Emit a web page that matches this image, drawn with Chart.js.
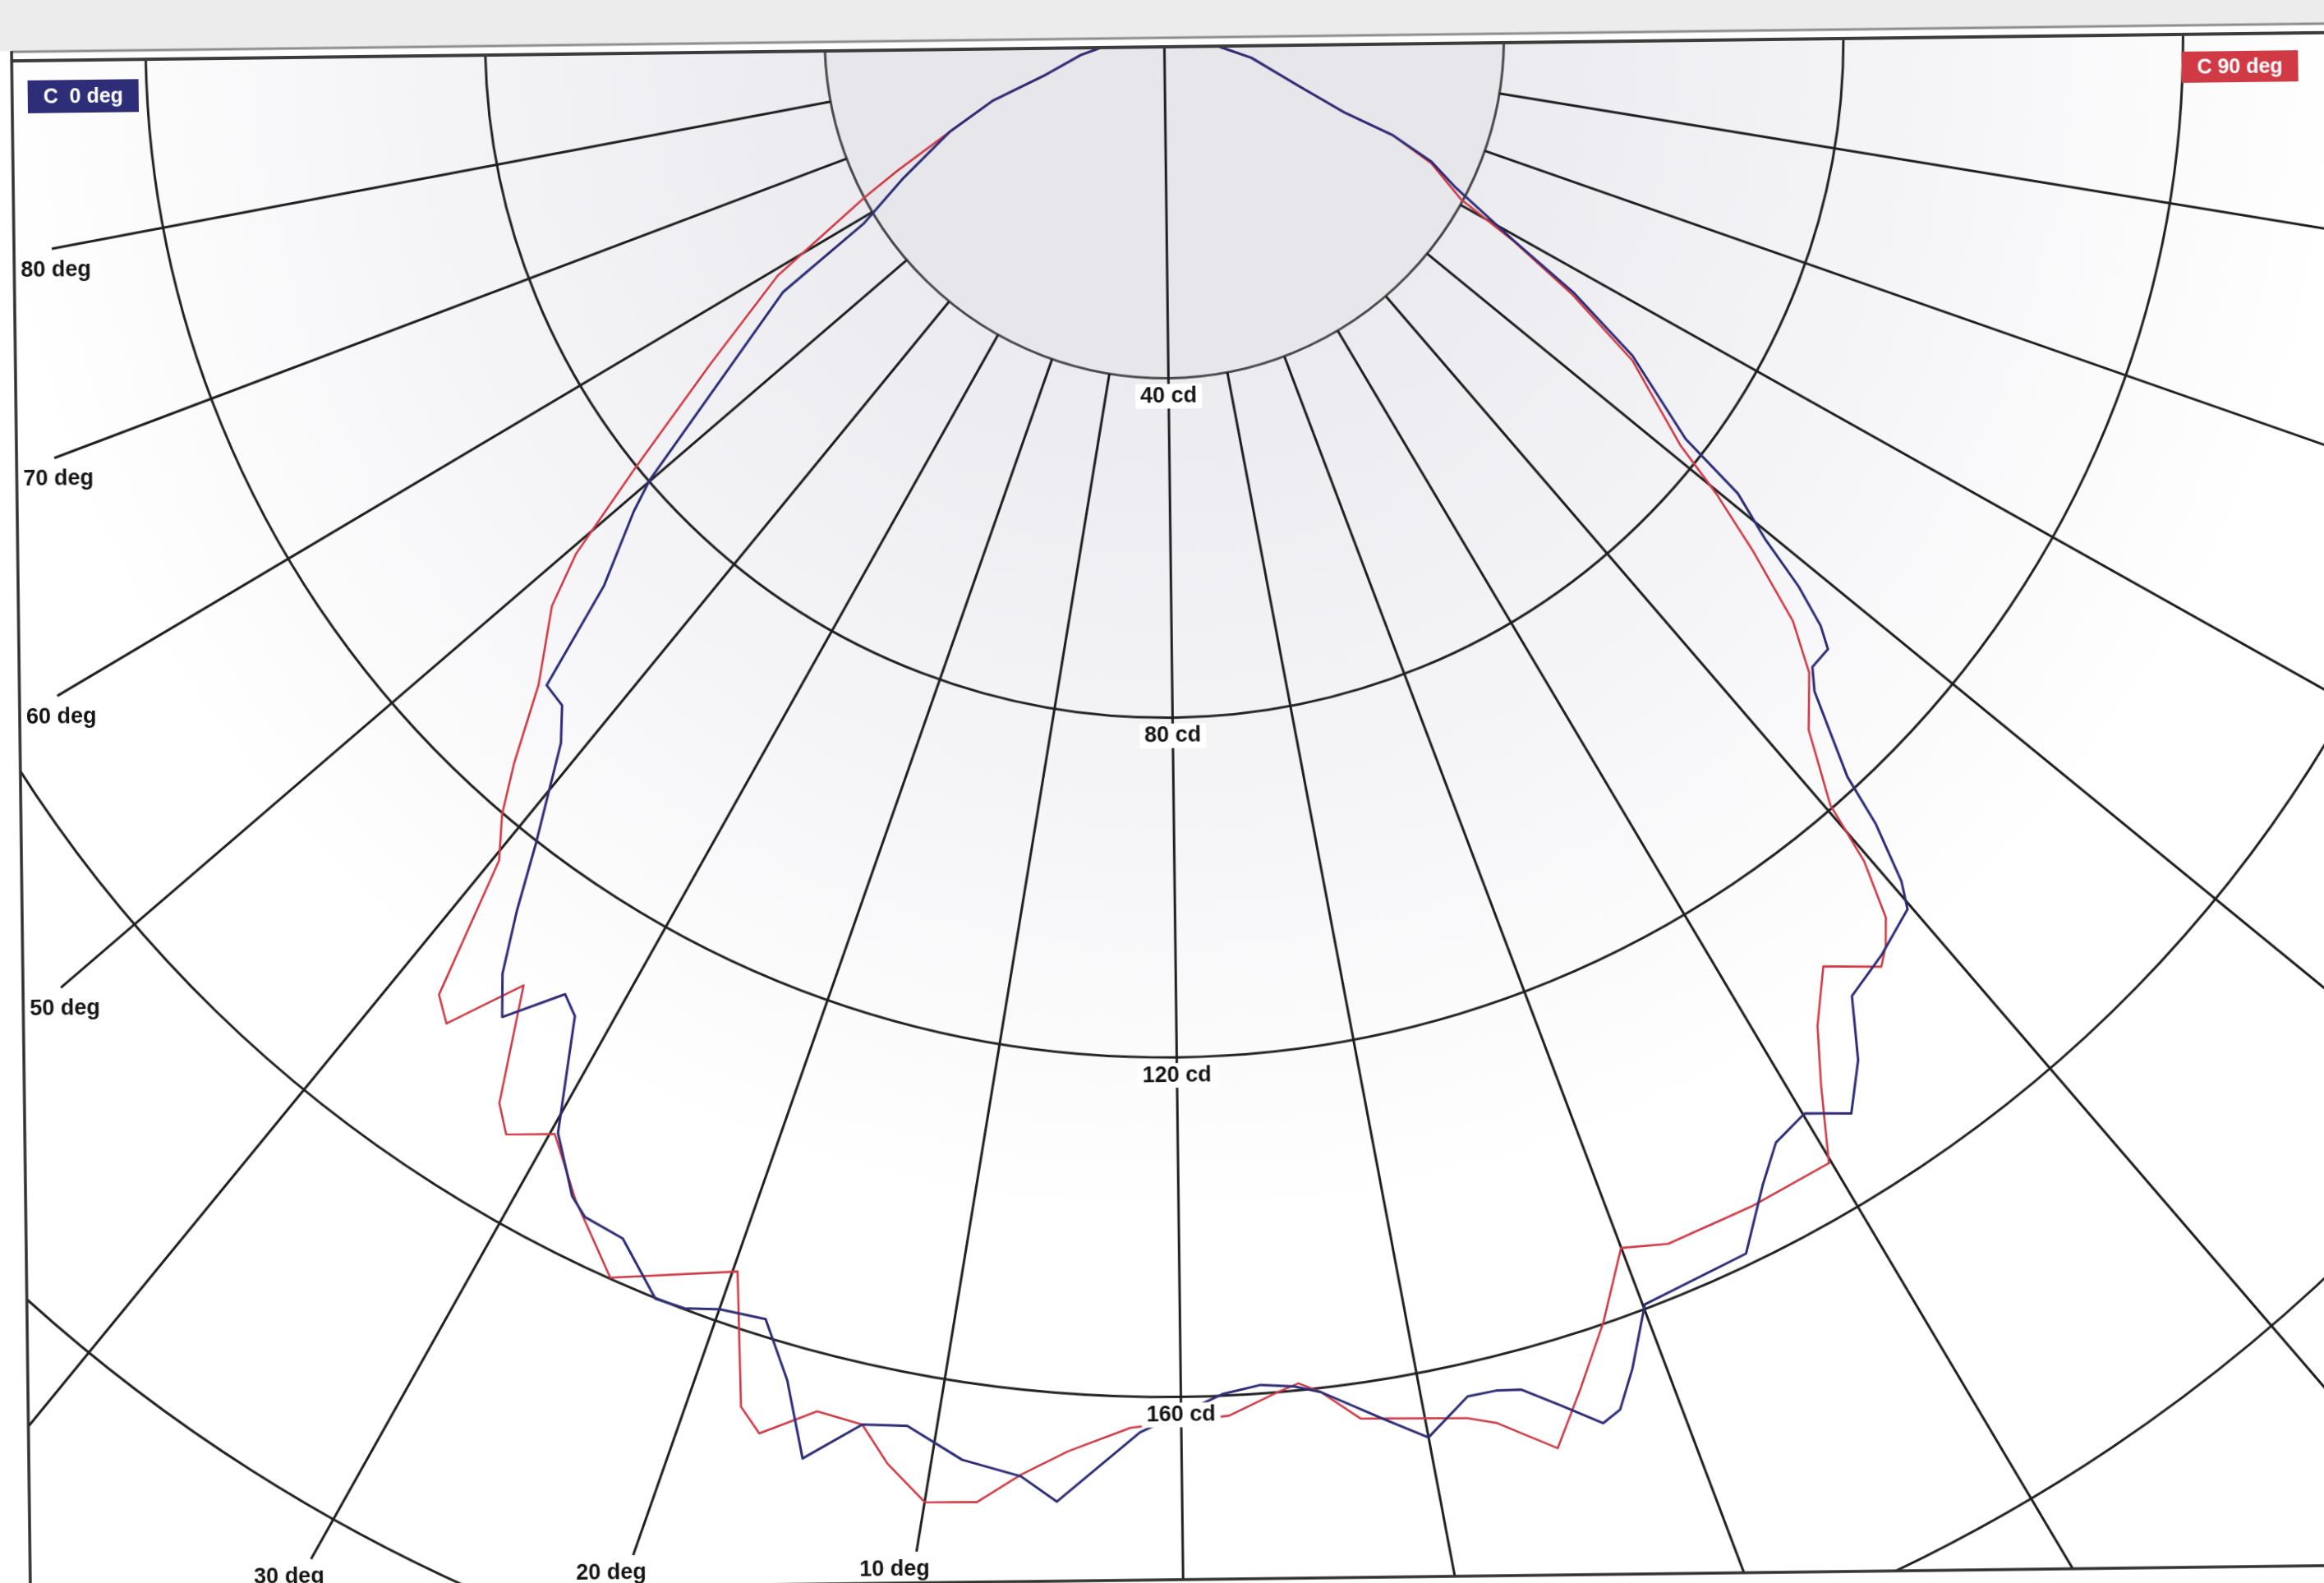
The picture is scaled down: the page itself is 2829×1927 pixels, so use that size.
<!DOCTYPE html>
<html>
<head>
<meta charset="utf-8">
<title>Polar intensity diagram</title>
<script src="https://cdn.jsdelivr.net/npm/chart.js@4.4.1/dist/chart.umd.min.js"></script>
<style>
    html, body { margin: 0; padding: 0; background: #fff; width: 2829px; height: 1927px; overflow: hidden; }
    /* the scan is turned a little, so the whole sheet is turned round the polar centre */
    #wrap { position: absolute; left: -100px; top: -100px; width: 3050px; height: 2150px;
            transform: rotate(-0.7deg); transform-origin: 1518px 147px; }
</style>
</head>
<body>
<div id="wrap"><canvas id="polarChart"></canvas></div>
<script>
/* 1. data : gamma angle (deg) and luminous intensity (cd) */
const c0Gamma = [-90, -85.7, -79.6, -73.6, -70.8, -67.2, -62.6, -59.1, -57.1, -50.1, -49.0, -46.4, -44.4, -42.8,
    -41.3, -38.7, -37.3, -36.0, -34.8, -32.8, -31.8, -29.7, -27.8, -26.9, -25.0, -22.7, -21.4, -20.0, -18.0, -16.4,
    -15.0, -13.0, -11.2, -8.8, -6.4, -4.9, -1.7, 1.8, 3.4, 4.8, 5.9, 8.3, 10.0, 11.9, 13.1, 14.1, 15.5, 16.9, 17.7,
    18.7, 20.1, 24.9, 26.9, 28.3, 30.1, 31.9, 33.5, 35.0, 37.4, 39.8, 40.5, 41.5, 42.1, 44.2, 45.2, 46.7, 47.5, 48.5,
    49.5, 50.9, 51.8, 55.2, 57.5, 59.3, 62.3, 64.6, 66.4, 67.0, 69.9, 76.9, 81.4, 90];
const c0Cd = [6, 6.0, 10.0, 14.8, 21.5, 27.6, 34.8, 41.6, 53.9, 79.8, 83.7, 92.2, 105.3, 105.8,
    109.2, 120.2, 127.9, 134.9, 139.1, 132.8, 134.4, 147.3, 153.1, 154.6, 155.0, 160.0, 159.8, 158.5, 157.9, 164.1,
    172.5, 167.0, 166.1, 169.0, 170.1, 172.7, 164.1, 159.7, 158.9, 159.4, 160.4, 164.5, 167.6, 163.8, 163.9, 164.5,
    167.6, 171.0, 170.1, 166.0, 159.4, 158.6, 152.2, 148.6, 147.3, 150.2, 145.4, 138.8, 137.0, 134.8, 131.8, 124.7,
    118.4, 108.5, 106.3, 106.2, 103.7, 98.7, 92.2, 86.2, 77.4, 66.6, 56.7, 47.5, 38.4, 34.6, 29.2, 23.0, 16.8, 10.5,
    6.3, 6];

const c90Gamma = [-90, -85.7, -79.6, -73.6, -70.8, -67.2, -64.4, -62.8, -59.2, -55.1, -51.6, -49.5, -47.9, -44.8,
    -42.6, -41.2, -39.7, -37.9, -36.8, -34.8, -32.7, -31.7, -29.8, -27.6, -24.8, -19.8, -17.9, -16.9, -14.9, -13.0,
    -11.7, -10.0, -8.0, -6.4, -4.6, -2.1, 2.0, 4.1, 5.0, 5.9, 7.4, 11.7, 12.8, 14.9, 16.4, 18.2, 20.0, 22.0, 26.0,
    29.9, 31.4, 32.8, 34.7, 37.0, 37.8, 38.7, 39.7, 40.3, 42.3, 44.8, 46.5, 48.3, 49.8, 51.1, 54.8, 57.2, 59.2, 60.9,
    64.3, 66.4, 67.0, 69.9, 76.9, 81.4, 90];
const c90Cd = [6, 6.0, 10.0, 14.8, 21.5, 27.6, 35.0, 39.9, 53.4, 65.7, 80.5, 92.1, 98.3, 105.9,
    114.7, 120.1, 124.5, 141.3, 143.5, 134.6, 147.8, 150.5, 147.6, 153.3, 159.8, 153.6, 168.6, 171.0, 166.7, 167.0,
    170.9, 174.6, 173.7, 169.9, 166.7, 163.6, 162.3, 159.9, 159.1, 160.4, 164.1, 166.3, 167.6, 172.3, 166.5, 159.7,
    152.2, 153.8, 153.9, 153.8, 145.6, 139.4, 134.0, 138.1, 136.5, 133.9, 127.2, 119.6, 111.3, 106.5, 100.9, 91.8,
    84.3, 77.3, 66.9, 56.8, 47.6, 39.7, 34.7, 29.2, 23.0, 16.8, 10.5, 6.3, 6];

const seriesNames = ['C  0 deg', 'C 90 deg'];
const ringValues = [40, 80, 120, 160, 200];
const ringLabels = ['40 cd', '80 cd', '120 cd', '160 cd'];
const spokeAngles = [-80, -70, -60, -50, -40, -30, -20, -10, 0, 10, 20, 30, 40, 50, 60, 70, 80];
const labelledAngles = [-80, -70, -60, -50, -30, -20, -10];
const angleLabels = ['80 deg', '70 deg', '60 deg', '50 deg', '30 deg', '20 deg', '10 deg'];

/* 2. sheet geometry (pixels inside #wrap) */
const WIDTH = 3050, HEIGHT = 2150;
const CX = 1518, CY = 147;          // polar centre
const PX_PER_CD = 10.34;
const FRAME = { left: 114, top: 155, bottom: 2023 };
const BLUE = '#2d2d78', RED = '#cf3a45';
const LABEL_FONT = 'bold 27px "Liberation Sans", Arial, sans-serif';

function toPoints(gammas, cds) {
    return gammas.map(function(g, i) {
        const rad = g * Math.PI / 180;
        return { x: cds[i] * Math.sin(rad), y: -cds[i] * Math.cos(rad) };
    });
}

function polarFrame(chart) {
    const cx = chart.scales.x.getPixelForValue(0);
    const cy = chart.scales.y.getPixelForValue(0);
    const unit = chart.scales.x.getPixelForValue(1) - cx;
    return { cx: cx, cy: cy, unit: unit };
}

// where a spoke stops; labelled spokes leave room for their text
function spokeEnd(g, a, p) {
    const rad = g * Math.PI / 180;
    const dx = Math.sin(rad), dy = Math.cos(rad);
    let len = 320 * p.unit;
    let side = null;
    if (labelledAngles.indexOf(g) >= 0) {
        const tLeft = dx < 0 ? (p.cx - (a.left + 46)) / -dx : Infinity;
        const tBottom = (a.bottom - 38 - p.cy) / dy;
        len = Math.min(tLeft, tBottom);
        side = tLeft < tBottom ? 'left' : 'bottom';
    }
    return { x: p.cx + dx * len, y: p.cy + dy * len, dx: dx, dy: dy, side: side };
}

function drawTag(ctx, text, color, x, y, w, h) {
    ctx.fillStyle = color;
    ctx.fillRect(x, y, w, h);
    ctx.fillStyle = '#fff';
    ctx.font = 'bold 25px "Liberation Sans", Arial, sans-serif';
    ctx.textAlign = 'center';
    ctx.textBaseline = 'middle';
    ctx.fillText(text, x + w / 2, y + h / 2 + 1);
}

const polarGrid = {
    id: 'polarGrid',
    beforeDraw: function(chart) {
        const ctx = chart.ctx, a = chart.chartArea;
        const p = polarFrame(chart);
        ctx.save();
        ctx.fillStyle = '#fff';
        ctx.fillRect(0, 0, chart.width, chart.height);
        ctx.fillStyle = '#ececec';
        ctx.fillRect(0, 0, chart.width, a.top - 10);

        ctx.beginPath();
        ctx.rect(a.left, a.top, a.right - a.left, a.bottom - a.top);
        ctx.clip();

        const grad = ctx.createRadialGradient(p.cx, p.cy, 0, p.cx, p.cy, 140 * p.unit);
        grad.addColorStop(0, '#e4e4e9');
        grad.addColorStop(0.29, '#ececf0');
        grad.addColorStop(0.57, '#f3f3f6');
        grad.addColorStop(1, '#ffffff');
        ctx.fillStyle = grad;
        ctx.fillRect(a.left, a.top, a.right - a.left, a.bottom - a.top);

        ctx.beginPath();
        ctx.arc(p.cx, p.cy, ringValues[0] * p.unit, 0, Math.PI * 2);
        ctx.fillStyle = '#e6e6eb';
        ctx.fill();

        ctx.lineWidth = 3;
        ringValues.forEach(function(v, i) {
            ctx.strokeStyle = i === 0 ? '#4a4a4a' : '#222';
            ctx.beginPath();
            ctx.arc(p.cx, p.cy, v * p.unit, 0, Math.PI * 2);
            ctx.stroke();
        });

        ctx.strokeStyle = '#1e1e1e';
        spokeAngles.forEach(function(g) {
            const end = spokeEnd(g, a, p);
            const start = g === 0 ? 0 : ringValues[0] * p.unit;
            ctx.beginPath();
            ctx.moveTo(p.cx + end.dx * start, p.cy + end.dy * start);
            ctx.lineTo(end.x, end.y);
            ctx.stroke();
        });
        ctx.restore();
    },
    afterDatasetsDraw: function(chart) {
        const ctx = chart.ctx, a = chart.chartArea;
        const p = polarFrame(chart);
        ctx.save();
        ctx.font = LABEL_FONT;
        ctx.textBaseline = 'middle';

        // intensity labels sit on the 0 deg spoke
        ctx.textAlign = 'center';
        ringLabels.forEach(function(t, i) {
            const ly = p.cy + ringValues[i] * p.unit + 22;
            const w = ctx.measureText(t).width + 12;
            ctx.fillStyle = '#fff';
            ctx.fillRect(p.cx - w / 2, ly - 15, w, 30);
            ctx.fillStyle = '#151515';
            ctx.fillText(t, p.cx, ly);
        });

        // angle labels at the ends of the spokes
        labelledAngles.forEach(function(g, i) {
            const end = spokeEnd(g, a, p);
            ctx.fillStyle = '#151515';
            if (end.side === 'left') {
                ctx.textAlign = 'left';
                ctx.fillText(angleLabels[i], a.left + 8, end.y + 26);
            } else {
                ctx.textAlign = 'center';
                ctx.fillText(angleLabels[i], end.x - 27, end.y + 22);
            }
        });

        // frame
        ctx.lineWidth = 3;
        ctx.strokeStyle = '#8c8c8c';
        ctx.beginPath();
        ctx.moveTo(a.left, a.top - 9);
        ctx.lineTo(chart.width, a.top - 9);
        ctx.stroke();
        ctx.lineWidth = 4;
        ctx.strokeStyle = '#3c3c3c';
        ctx.beginPath();
        ctx.moveTo(a.left, a.top + 2);
        ctx.lineTo(chart.width, a.top + 2);
        ctx.stroke();
        ctx.lineWidth = 3.5;
        ctx.strokeStyle = '#303030';
        ctx.beginPath();
        ctx.moveTo(a.left, a.top - 10);
        ctx.lineTo(a.left, a.bottom);
        ctx.lineTo(chart.width, a.bottom);
        ctx.stroke();

        // series tags
        const sets = chart.data.datasets;
        drawTag(ctx, sets[0].label, sets[0].borderColor, a.left + 19, a.top + 26, 135, 40);
        drawTag(ctx, sets[1].label, sets[1].borderColor, chart.width - 295, a.top + 23, 142, 38);
        ctx.restore();
    }
};

/* 3. chart */
document.addEventListener('DOMContentLoaded', function() {
    const ctx = document.getElementById('polarChart');
    new Chart(ctx, {
        type: 'scatter',
        data: {
            datasets: [{
                label: seriesNames[0],
                data: toPoints(c0Gamma, c0Cd),
                borderColor: BLUE,
                backgroundColor: BLUE,
                showLine: true,
                borderWidth: 3,
                pointRadius: 0,
                borderJoinStyle: 'round',
                tension: 0
            }, {
                label: seriesNames[1],
                data: toPoints(c90Gamma, c90Cd),
                borderColor: RED,
                backgroundColor: RED,
                showLine: true,
                borderWidth: 2.6,
                pointRadius: 0,
                borderJoinStyle: 'round',
                tension: 0
            }]
        },
        options: {
            responsive: true,
            maintainAspectRatio: false,
            animation: false,
            devicePixelRatio: 1,
            layout: { padding: { left: FRAME.left, top: FRAME.top, right: 0, bottom: HEIGHT - FRAME.bottom } },
            plugins: {
                legend: { display: false },
                tooltip: { enabled: false }
            },
            scales: {
                x: { type: 'linear', display: false,
                     min: (FRAME.left - CX) / PX_PER_CD, max: (WIDTH - CX) / PX_PER_CD },
                y: { type: 'linear', display: false,
                     min: -(FRAME.bottom - CY) / PX_PER_CD, max: -(FRAME.top - CY) / PX_PER_CD }
            }
        },
        plugins: [polarGrid]
    });
});
</script>
</body>
</html>
